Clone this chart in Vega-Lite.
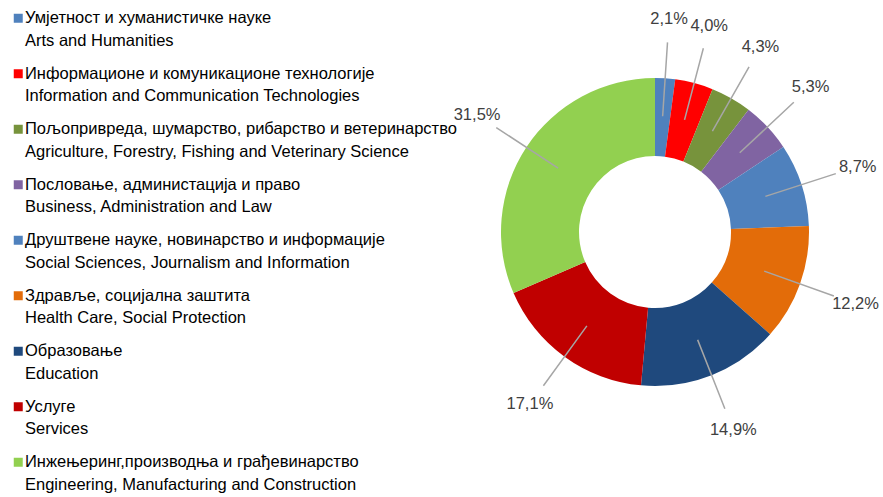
{
  "$schema": "https://vega.github.io/schema/vega-lite/v6.json",
  "autosize": "none",
  "padding": {"left": 455, "top": 0, "right": 28, "bottom": 33},
  "width": 400,
  "height": 464,
  "background": "white",
  "config": {"view": {"stroke": null}, "font": "Liberation Sans"},
  "data": {
    "values": [
      {"rank": 1, "category": "Умјетност и хуманистичке науке\nArts and Humanities", "value": 2.1, "label": "2,1%"},
      {"rank": 2, "category": "Информационе и комуникационе технологије\nInformation and Communication Technologies", "value": 4.0, "label": "4,0%"},
      {"rank": 3, "category": "Пољопривреда, шумарство, рибарство и ветеринарство\nAgriculture, Forestry, Fishing and Veterinary Science", "value": 4.3, "label": "4,3%"},
      {"rank": 4, "category": "Пословање, администација и право\nBusiness, Administration and Law", "value": 5.3, "label": "5,3%"},
      {"rank": 5, "category": "Друштвене науке, новинарство и информације\nSocial Sciences, Journalism and Information", "value": 8.7, "label": "8,7%"},
      {"rank": 6, "category": "Здравље, социјална заштита\nHealth Care, Social Protection", "value": 12.2, "label": "12,2%"},
      {"rank": 7, "category": "Образовање\nEducation", "value": 14.9, "label": "14,9%"},
      {"rank": 8, "category": "Услуге\nServices", "value": 17.1, "label": "17,1%"},
      {"rank": 9, "category": "Инжењеринг,производња и грађевинарство\nEngineering, Manufacturing and Construction", "value": 31.5, "label": "31,5%"}
    ]
  },
  "encoding": {
    "theta": {"field": "value", "type": "quantitative", "stack": true},
    "order": {"field": "rank", "type": "quantitative"}
  },
  "layer": [
    {
      "mark": {"type": "arc", "innerRadius": 76, "outerRadius": 154},
      "encoding": {
        "color": {
          "field": "category",
          "type": "nominal",
          "sort": null,
          "scale": {
            "domain": [
              "Умјетност и хуманистичке науке\nArts and Humanities",
              "Информационе и комуникационе технологије\nInformation and Communication Technologies",
              "Пољопривреда, шумарство, рибарство и ветеринарство\nAgriculture, Forestry, Fishing and Veterinary Science",
              "Пословање, администација и право\nBusiness, Administration and Law",
              "Друштвене науке, новинарство и информације\nSocial Sciences, Journalism and Information",
              "Здравље, социјална заштита\nHealth Care, Social Protection",
              "Образовање\nEducation",
              "Услуге\nServices",
              "Инжењеринг,производња и грађевинарство\nEngineering, Manufacturing and Construction"
            ],
            "range": ["#4F81BD", "#FF0000", "#77933C", "#8064A2", "#4F81BD", "#E36C09", "#1F497D", "#C00000", "#92D050"]
          },
          "legend": {
            "title": null,
            "orient": "none",
            "legendX": -445,
            "legendY": 10,
            "padding": 0,
            "symbolType": "square",
            "symbolSize": 81,
            "symbolStrokeWidth": 0,
            "labelOffset": -1.5,
            "labelFontSize": 16.5,
            "labelFont": "Liberation Sans",
            "labelColor": "#000000",
            "labelLimit": 700,
            "labelBaseline": "middle",
            "rowPadding": 15.5,
            "labelExpr": "split(datum.label, '\\n')",
            "encode": {"labels": {"update": {"lineHeight": {"value": 22.5}}}}
          }
        }
      }
    },
    {
      "mark": {"type": "arc", "innerRadius": 116, "outerRadius": 190, "padAngle": 3.14, "filled": false, "stroke": "#A6A6A6", "strokeWidth": 1.5}
    },
    {
      "mark": {"type": "text", "radius": 213, "fontSize": 16.5, "color": "#404040", "font": "Liberation Sans"},
      "encoding": {"text": {"field": "label"}}
    }
  ]
}
